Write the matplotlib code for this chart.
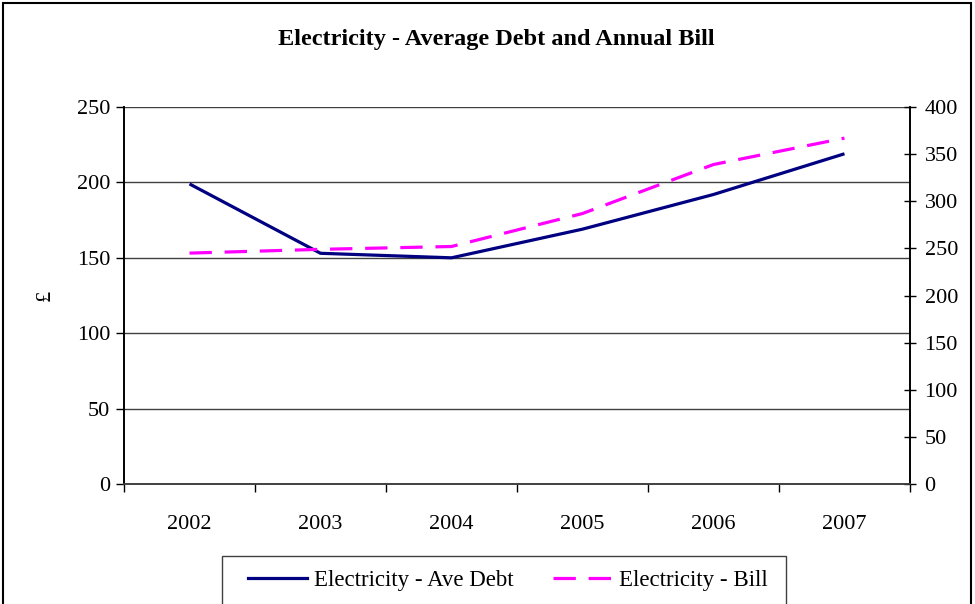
import matplotlib.pyplot as plt
from matplotlib.patches import Rectangle
from matplotlib.lines import Line2D

years = ['2002', '2003', '2004', '2005', '2006', '2007']
ave_debt = [199, 153, 150, 169, 192, 219]
annual_bill = [245, 249, 252, 287, 339, 367]

plt.rcParams['font.family'] = ['Liberation Serif', 'DejaVu Serif']

fig = plt.figure(figsize=(9.75, 6.04), dpi=100)
ax = fig.add_axes([0.1272, 0.1987, 0.8061, 0.6241])
ax2 = ax.twinx()

navy = '#000080'
pink = '#FF00FF'
x = range(len(years))

ax.plot(x, ave_debt, color=navy, lw=2.3, solid_capstyle='butt', zorder=3)
ax2.plot(x, annual_bill, color=pink, lw=2.3, dashes=(7, 4), zorder=3)

ax.set_xlim(-0.5, len(years) - 0.5)
ax.set_ylim(0, 250)
ax2.set_ylim(0, 400)
ax.set_yticks(range(0, 251, 50))
ax2.set_yticks(range(0, 401, 50))

ax.set_xticks(list(x))
ax.set_xticklabels(years)
ax.set_xticks([i - 0.5 for i in range(len(years) + 1)], minor=True)
ax.tick_params(axis='x', which='major', length=0, pad=22.5, labelsize=16)
ax.tick_params(axis='x', which='minor', length=6, width=1, direction='out')
ax.tick_params(axis='y', length=6, width=1, direction='out', pad=4, labelsize=16)
ax2.tick_params(axis='y', length=9, width=1, direction='inout', pad=6, labelsize=16)

ax.grid(axis='y', color='#404040', lw=1)
ax.set_axisbelow(True)
for a in (ax, ax2):
    a.spines['top'].set_visible(False)
    a.spines['left'].set_linewidth(1.2)
    a.spines['right'].set_linewidth(1.2)
    a.spines['bottom'].set_linewidth(1.2)
    a.spines['bottom'].set_color('#404040')

ax.set_ylabel('£', fontsize=16, labelpad=16)

fig.text(496 / 975, 1 - 40 / 604, 'Electricity - Average Debt and Annual Bill',
         ha='center', va='center', fontsize=17.5, fontweight='bold')

# outer chart border (bottom edge runs off the image)
fig.patches.append(Rectangle((3 / 975, -0.05), 968 / 975, 1.05 - 3 / 604,
                             transform=fig.transFigure, fill=False,
                             edgecolor='black', lw=1.5))

# legend box, also cut by the bottom edge
fig.patches.append(Rectangle((222 / 975, -0.05), 564 / 975, 0.05 + 48 / 604,
                             transform=fig.transFigure, fill=False,
                             edgecolor='#404040', lw=1))
handles = [Line2D([], [], color=navy, lw=2.3),
           Line2D([], [], color=pink, lw=2.3, dashes=(7, 4))]
fig.legend(handles, ['Electricity - Ave Debt', 'Electricity - Bill'],
           loc='center', bbox_to_anchor=(508 / 975, 1 - 580 / 604), ncol=2,
           frameon=False, fontsize=16.5, handlelength=2.6, handletextpad=0.3,
           columnspacing=1.7)

fig.savefig('out.png', dpi=100)
